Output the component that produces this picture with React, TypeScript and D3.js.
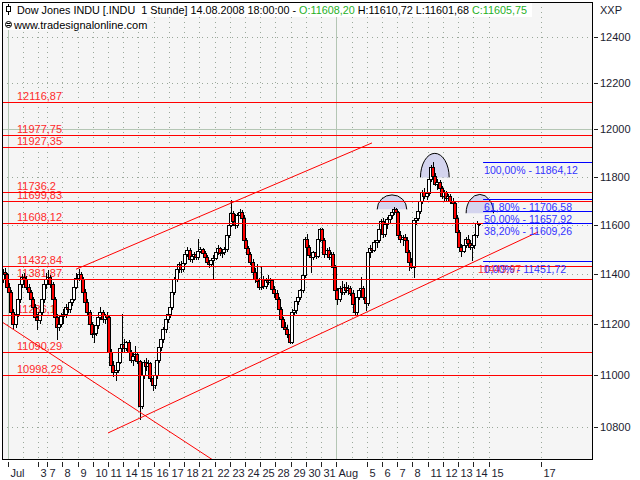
import { useEffect, useRef } from 'react';
import * as d3 from 'd3';

type Bar = [number, number, number, number]; // open, high, low, close

// hourly bars, one row per session (Jun 30 and Aug 14 are partial)
const candles: Bar[] = [
  // Jun 30
  [11380, 11420, 11370, 11410], [11410, 11425, 11390, 11400], [11400, 11405, 11340, 11350],
  // Jul 1
  [11350, 11365, 11320, 11330], [11330, 11335, 11240, 11250], [11250, 11262, 11186, 11200], [11200, 11250, 11190, 11240], [11240, 11310, 11232, 11300], [11300, 11368, 11290, 11360], [11360, 11400, 11350, 11390],
  // Jul 2
  [11390, 11405, 11370, 11380], [11380, 11392, 11340, 11350], [11350, 11362, 11320, 11330], [11330, 11338, 11290, 11300], [11300, 11310, 11258, 11270], [11270, 11282, 11225, 11230], [11230, 11240, 11180, 11215],
  // Jul 3 (half day)
  [11215, 11258, 11205, 11250], [11250, 11305, 11240, 11300], [11300, 11368, 11290, 11360], [11360, 11405, 11345, 11380],
  // Jul 7
  [11380, 11415, 11372, 11390], [11390, 11398, 11350, 11360], [11360, 11368, 11292, 11300], [11300, 11310, 11222, 11230], [11230, 11240, 11140, 11190], [11190, 11215, 11175, 11200], [11200, 11245, 11192, 11231],
  // Jul 8
  [11231, 11262, 11205, 11240], [11240, 11282, 11230, 11270], [11270, 11285, 11248, 11260], [11260, 11300, 11250, 11290], [11290, 11318, 11275, 11300], [11300, 11360, 11295, 11350], [11350, 11405, 11345, 11384],
  // Jul 9
  [11384, 11420, 11378, 11400], [11400, 11410, 11370, 11380], [11380, 11388, 11322, 11330], [11330, 11340, 11280, 11290], [11290, 11300, 11240, 11250], [11250, 11258, 11192, 11200], [11200, 11210, 11148, 11160],
  // Jul 10
  [11160, 11175, 11130, 11165], [11165, 11205, 11158, 11195], [11195, 11240, 11185, 11230], [11230, 11270, 11222, 11250], [11250, 11258, 11210, 11220], [11220, 11242, 11205, 11235], [11235, 11248, 11215, 11229],
  // Jul 11
  [11229, 11232, 11080, 11090], [11090, 11100, 11030, 11040], [11040, 11055, 10995, 11010], [11010, 11028, 10980, 11020], [11020, 11055, 11012, 11050], [11050, 11110, 11045, 11105], [11105, 11240, 11095, 11120],
  // Jul 14
  [11120, 11140, 11095, 11105], [11105, 11135, 11098, 11130], [11130, 11138, 11085, 11090], [11090, 11098, 11050, 11060], [11060, 11085, 11040, 11075], [11075, 11112, 11065, 11080], [11080, 11090, 11045, 11055],
  // Jul 15
  [11055, 11060, 10830, 10880], [10880, 11030, 10870, 11000], [11000, 11060, 10990, 11050], [11050, 11065, 11020, 11035], [11035, 11058, 11010, 11045], [11045, 11050, 10975, 10990], [10990, 11000, 10940, 10962],
  // Jul 16
  [10962, 11010, 10950, 11000], [11000, 11068, 10990, 11060], [11060, 11115, 11050, 11110], [11110, 11150, 11098, 11140], [11140, 11188, 11128, 11180], [11180, 11228, 11170, 11220], [11220, 11260, 11208, 11239],
  // Jul 17
  [11239, 11280, 11230, 11270], [11270, 11340, 11262, 11330], [11330, 11390, 11320, 11380], [11380, 11430, 11372, 11420], [11420, 11450, 11410, 11440], [11440, 11455, 11410, 11420], [11420, 11460, 11412, 11446],
  // Jul 18
  [11446, 11490, 11440, 11480], [11480, 11512, 11472, 11500], [11500, 11508, 11455, 11462], [11462, 11480, 11450, 11472], [11472, 11490, 11462, 11482], [11482, 11490, 11460, 11468], [11468, 11542, 11462, 11496],
  // Jul 21
  [11496, 11512, 11488, 11502], [11502, 11508, 11478, 11486], [11486, 11495, 11462, 11470], [11470, 11478, 11440, 11448], [11448, 11456, 11430, 11440], [11440, 11466, 11432, 11458], [11458, 11478, 11380, 11467],
  // Jul 22
  [11467, 11500, 11460, 11490], [11490, 11520, 11482, 11505], [11505, 11512, 11478, 11484], [11484, 11498, 11470, 11490], [11490, 11510, 11482, 11504], [11504, 11565, 11495, 11560], [11560, 11610, 11552, 11602],
  // Jul 23
  [11602, 11705, 11595, 11650], [11650, 11660, 11605, 11615], [11615, 11645, 11590, 11600], [11600, 11650, 11592, 11640], [11640, 11668, 11630, 11655], [11655, 11662, 11620, 11628], [11628, 11640, 11530, 11540],
  // Jul 24
  [11540, 11548, 11495, 11505], [11505, 11515, 11470, 11480], [11480, 11490, 11440, 11450], [11450, 11462, 11400, 11410], [11410, 11425, 11370, 11380], [11380, 11440, 11362, 11372], [11372, 11385, 11340, 11349],
  // Jul 25
  [11349, 11430, 11340, 11380], [11380, 11392, 11345, 11352], [11352, 11385, 11345, 11378], [11378, 11395, 11360, 11368], [11368, 11384, 11350, 11375], [11375, 11380, 11330, 11340], [11340, 11352, 11310, 11325],
  // Jul 28
  [11325, 11335, 11290, 11300], [11300, 11308, 11255, 11262], [11262, 11270, 11215, 11222], [11222, 11230, 11180, 11190], [11190, 11210, 11170, 11182], [11182, 11195, 11150, 11160], [11160, 11168, 11125, 11131],
  // Jul 29
  [11131, 11260, 11125, 11250], [11250, 11262, 11238, 11255], [11255, 11300, 11245, 11292], [11292, 11318, 11280, 11310], [11310, 11340, 11300, 11335], [11335, 11400, 11328, 11395], [11395, 11550, 11390, 11545],
  // Jul 30
  [11545, 11565, 11500, 11510], [11510, 11520, 11470, 11478], [11478, 11490, 11410, 11470], [11470, 11495, 11460, 11488], [11488, 11500, 11465, 11475], [11475, 11550, 11468, 11545], [11545, 11590, 11535, 11583],
  // Jul 31
  [11583, 11590, 11530, 11540], [11540, 11548, 11470, 11480], [11480, 11505, 11470, 11498], [11498, 11510, 11462, 11470], [11470, 11490, 11460, 11482], [11482, 11488, 11420, 11430], [11430, 11438, 11320, 11335],
  // Aug 1
  [11335, 11345, 11280, 11300], [11300, 11352, 11292, 11345], [11345, 11372, 11320, 11330], [11330, 11360, 11322, 11350], [11350, 11368, 11330, 11338], [11338, 11355, 11320, 11345], [11345, 11352, 11318, 11326],
  // Aug 4
  [11326, 11335, 11270, 11280], [11280, 11290, 11236, 11250], [11250, 11320, 11242, 11310], [11310, 11340, 11300, 11335], [11335, 11390, 11328, 11345], [11345, 11352, 11300, 11310], [11310, 11320, 11255, 11284],
  // Aug 5
  [11284, 11495, 11278, 11490], [11490, 11520, 11470, 11505], [11505, 11530, 11490, 11500], [11500, 11540, 11495, 11530], [11530, 11548, 11510, 11540], [11540, 11590, 11530, 11585], [11585, 11625, 11578, 11615],
  // Aug 6
  [11615, 11630, 11550, 11565], [11565, 11615, 11555, 11605], [11605, 11635, 11590, 11625], [11625, 11650, 11612, 11640], [11640, 11665, 11628, 11655], [11655, 11675, 11645, 11668], [11668, 11672, 11640, 11656],
  // Aug 7
  [11656, 11660, 11550, 11560], [11560, 11575, 11530, 11545], [11545, 11560, 11520, 11552], [11552, 11565, 11535, 11540], [11540, 11550, 11480, 11490], [11490, 11500, 11415, 11450], [11450, 11465, 11425, 11431],
  // Aug 8
  [11431, 11625, 11390, 11620], [11620, 11640, 11605, 11630], [11630, 11668, 11620, 11660], [11660, 11705, 11650, 11698], [11698, 11745, 11690, 11738], [11738, 11752, 11712, 11720], [11720, 11745, 11708, 11734],
  // Aug 11
  [11734, 11800, 11725, 11790], [11790, 11848, 11782, 11840], [11840, 11864, 11795, 11805], [11805, 11815, 11765, 11772], [11772, 11790, 11748, 11780], [11780, 11788, 11740, 11752], [11752, 11760, 11712, 11722],
  // Aug 12
  [11722, 11745, 11700, 11735], [11735, 11742, 11705, 11712], [11712, 11730, 11698, 11720], [11720, 11728, 11690, 11700], [11700, 11712, 11680, 11692], [11692, 11700, 11620, 11630], [11630, 11640, 11560, 11570],
  // Aug 13
  [11570, 11580, 11500, 11510], [11510, 11522, 11475, 11495], [11495, 11525, 11488, 11518], [11518, 11550, 11510, 11545], [11545, 11560, 11515, 11525], [11525, 11540, 11502, 11510], [11510, 11528, 11458, 11520],
  // Aug 14
  [11520, 11565, 11505, 11558], [11558, 11618, 11550, 11608.2], [11608.2, 11610.72, 11601.68, 11605.75],
];

// sessions on the time axis ('' = no label drawn)
const sessionLabels = ['', 'Jul', '', '3', '7', '8', '9', '10', '11', '14', '15', '16', '17', '18', '21', '22', '23', '24', '25', '28', '29', '30', '31', 'Aug', '', '5', '6', '7', '8', '11', '12', '13', '14'];
const sessionBars = [3, 7, 7, 4, 7, 7, 7, 7, 7, 7, 7, 7, 7, 7, 7, 7, 7, 7, 7, 7, 7, 7, 7, 7, 7, 7, 7, 7, 7, 7, 7, 7, 3];
const monthLabels = ['Jul', 'Aug'];
const futureLabels = ['15', '17'];
const futureSlots = [224, 248];

const priceTicks = [10800, 11000, 11200, 11400, 11600, 11800, 12000, 12200, 12400];
const majorPrice = 12000;

const levelValues = [12116.87, 11977.75, 11927.35, 11736.2, 11699.83, 11608.12, 11432.84, 11381.87, 11236.1, 11090.29, 10998.29];

const fibPercents = ['100,00%', '61,80%', '50,00%', '38,20%', '0,00%'];
const fibValues = [11864.12, 11706.58, 11657.92, 11609.26, 11451.72];
const fibStartSlot = 221.5;
const extraLabel = '11449,97';

// trend lines as [slot, price] pairs
const trendLines: [number, number][][] = [
  [[34.3, 11420], [170.4, 11943]],
  [[49.0, 10776], [246.8, 11572]],
  [[0.7, 11206], [97.3, 10673]],
];

// domes over the three highs
const domeSlots = [179.6, 199.3, 220.0];
const domeBase = [11665, 11798, 11649];
const domeTop = [11725, 11899, 11727];
const domeHalfBars = [6.8, 6.6, 6.3];

const fmt = (v: number) => String(v).replace('.', ',');
const fmt2 = (v: number) => v.toFixed(2).replace('.', ',');

export default function App() {
  const svgRef = useRef<SVGSVGElement>(null);

  useEffect(() => {
    const svg = d3.select(svgRef.current);
    svg.selectAll('*').remove();

    const W = 640;
    const H = 480;
    const plot = { left: 2, top: 2, right: 592, bottom: 459 };
    const font = "'Liberation Sans', Arial, sans-serif";

    const starts: number[] = [];
    let acc = 0;
    sessionBars.forEach((n) => {
      starts.push(acc);
      acc += n;
    });

    const x = d3.scaleLinear().domain([starts[1], starts[starts.length - 1]]).range([8, 473.3]);
    const y = d3.scaleLog().domain([10800, 12400]).range([426.7, 37]);
    const cy = (v: number) => Math.round(y(v)) + 0.5;
    const cx = (s: number) => Math.round(x(s)) + 0.5;

    svg.append('rect').attr('width', W).attr('height', H).attr('fill', '#fff');
    svg.append('rect')
      .attr('x', plot.left).attr('y', plot.top)
      .attr('width', plot.right - plot.left).attr('height', plot.bottom - plot.top)
      .attr('fill', '#f5f5f5');

    svg.append('defs').append('clipPath').attr('id', 'plotClip')
      .append('rect')
      .attr('x', plot.left + 1).attr('y', plot.top + 1)
      .attr('width', plot.right - plot.left - 1).attr('height', plot.bottom - plot.top - 1);

    const g = svg.append('g').attr('clip-path', 'url(#plotClip)');

    // grid
    priceTicks.forEach((v) => {
      g.append('line')
        .attr('x1', plot.left).attr('x2', plot.right)
        .attr('y1', cy(v)).attr('y2', cy(v))
        .attr('stroke', v === majorPrice ? '#b4c6b4' : '#9aa89a')
        .attr('stroke-dasharray', v === majorPrice ? null : '1,4');
    });
    sessionLabels.forEach((lab, i) => {
      if (i === 0) return;
      const isMonth = monthLabels.includes(lab);
      g.append('line')
        .attr('x1', cx(starts[i])).attr('x2', cx(starts[i]))
        .attr('y1', plot.top).attr('y2', plot.bottom)
        .attr('stroke', isMonth ? '#b4c6b4' : '#9aa89a')
        .attr('stroke-dasharray', isMonth ? null : '1,4');
    });
    futureSlots.forEach((s) => {
      g.append('line')
        .attr('x1', cx(s)).attr('x2', cx(s))
        .attr('y1', plot.top).attr('y2', plot.bottom)
        .attr('stroke', '#9aa89a').attr('stroke-dasharray', '1,4');
    });

    // level labels (behind candles)
    levelValues.forEach((v) => {
      g.append('text')
        .attr('x', 17).attr('y', Math.round(y(v)) - 2)
        .attr('font-family', font).attr('font-size', 11)
        .attr('fill', '#ff2a2a')
        .text(fmt(v));
    });

    // domes
    domeSlots.forEach((s, i) => {
      const x0 = x(s - domeHalfBars[i]);
      const x1 = x(s + domeHalfBars[i]);
      const rx = (x1 - x0) / 2;
      const by = y(domeBase[i]);
      const ry = by - y(domeTop[i]);
      g.append('path')
        .attr('d', `M${x0},${by} A${rx},${ry} 0 0 1 ${x1},${by}`)
        .attr('fill', '#d4d4ee')
        .attr('stroke', '#000')
        .attr('stroke-width', 1);
    });

    // candles
    candles.forEach(([o, h, l, c], i) => {
      const px = Math.round(x(i + 0.5));
      const yh = Math.round(y(h));
      const yl = Math.round(y(l));
      g.append('rect')
        .attr('x', px).attr('y', yh)
        .attr('width', 1).attr('height', Math.max(yl - yh + 1, 1))
        .attr('fill', '#000');
      const yt = Math.round(y(Math.max(o, c)));
      const yb = Math.round(y(Math.min(o, c)));
      g.append('rect')
        .attr('x', px - 1.5).attr('y', yt + 0.5)
        .attr('width', 3).attr('height', Math.max(yb - yt, 0))
        .attr('fill', c >= o ? '#fff' : '#ff0000')
        .attr('stroke', '#000')
        .attr('shape-rendering', 'crispEdges');
    });

    // horizontal levels
    levelValues.forEach((v) => {
      g.append('line')
        .attr('x1', plot.left).attr('x2', plot.right)
        .attr('y1', cy(v)).attr('y2', cy(v))
        .attr('stroke', '#ff0000')
        .attr('stroke-width', 1.2);
    });

    // trend lines
    const line = d3.line<[number, number]>().x((d) => x(d[0])).y((d) => y(d[1]));
    trendLines.forEach((t) => {
      g.append('path').attr('d', line(t)).attr('fill', 'none').attr('stroke', '#ff0000');
    });

    // fibonacci levels
    fibValues.forEach((v) => {
      g.append('line')
        .attr('x1', x(fibStartSlot)).attr('x2', plot.right)
        .attr('y1', cy(v)).attr('y2', cy(v))
        .attr('stroke', '#0000ff');
    });
    g.append('text')
      .attr('x', x(fibStartSlot) - 5).attr('y', Math.round(y(fibValues[4])) + 12)
      .attr('font-family', font).attr('font-size', 10.5)
      .attr('fill', '#ff2a2a')
      .text(extraLabel);
    fibValues.forEach((v, i) => {
      g.append('text')
        .attr('x', x(fibStartSlot) + 1).attr('y', Math.round(y(v)) + 12)
        .attr('font-family', font).attr('font-size', 10.5)
        .attr('fill', '#3333ff')
        .text(`${fibPercents[i]} - ${fmt2(v)}`);
    });

    // header
    const last = candles[candles.length - 1];
    g.append('rect').attr('x', plot.left).attr('y', plot.top).attr('width', 530).attr('height', 15).attr('fill', '#fff');
    g.append('rect').attr('x', plot.left).attr('y', plot.top + 15).attr('width', 145).attr('height', 13).attr('fill', '#fff');
    g.append('line').attr('x1', 8.5).attr('x2', 8.5).attr('y1', 4).attr('y2', 15).attr('stroke', '#000');
    g.append('rect').attr('x', 6.5).attr('y', 6.5).attr('width', 4).attr('height', 5).attr('fill', '#fff').attr('stroke', '#000');
    const hdr = g.append('text')
      .attr('x', 17).attr('y', 14)
      .attr('font-family', font).attr('font-size', 10.8)
      .attr('fill', '#000')
      .style('white-space', 'pre');
    hdr.append('tspan').text('Dow Jones INDU [.INDU  1 Stunde] 14.08.2008 18:00:00 - ');
    hdr.append('tspan').attr('fill', '#1fb01f').text(`O:${fmt2(last[0])}`);
    hdr.append('tspan').text(` H:${fmt2(last[1])} L:${fmt2(last[2])} `);
    hdr.append('tspan').attr('fill', '#1fb01f').text(`C:${fmt2(last[3])}`);

    g.append('circle').attr('cx', 8.5).attr('cy', 24.5).attr('r', 3).attr('fill', '#fff').attr('stroke', '#000');
    g.append('line').attr('x1', 6.5).attr('x2', 10.5).attr('y1', 23.5).attr('y2', 23.5).attr('stroke', '#000');
    g.append('line').attr('x1', 6.5).attr('x2', 10.5).attr('y1', 25.5).attr('y2', 25.5).attr('stroke', '#000');
    g.append('text')
      .attr('x', 14).attr('y', 29)
      .attr('font-family', font).attr('font-size', 11)
      .attr('fill', '#000')
      .text('www.tradesignalonline.com');

    // frame
    svg.append('rect')
      .attr('x', plot.left + 0.5).attr('y', plot.top + 0.5)
      .attr('width', plot.right - plot.left).attr('height', plot.bottom - plot.top)
      .attr('fill', 'none').attr('stroke', '#000');

    // right axis
    priceTicks.forEach((v) => {
      svg.append('line')
        .attr('x1', plot.right + 2).attr('x2', plot.right + 6)
        .attr('y1', cy(v)).attr('y2', cy(v))
        .attr('stroke', '#222');
      svg.append('text')
        .attr('x', plot.right + 8).attr('y', Math.round(y(v)) + 4)
        .attr('font-family', font).attr('font-size', 11)
        .attr('fill', '#1c1c30')
        .text(String(v));
    });
    svg.append('text')
      .attr('x', plot.right + 8).attr('y', 14)
      .attr('font-family', font).attr('font-size', 11)
      .attr('fill', '#1c1c30')
      .text('XXP');

    // bottom axis
    const ticks: { s: number; label: string }[] = [];
    sessionLabels.forEach((lab, i) => {
      if (lab) ticks.push({ s: starts[i], label: lab });
    });
    futureLabels.forEach((lab, i) => ticks.push({ s: futureSlots[i], label: lab }));
    ticks.forEach((t) => {
      svg.append('line')
        .attr('x1', cx(t.s)).attr('x2', cx(t.s))
        .attr('y1', plot.bottom + 3).attr('y2', plot.bottom + 8)
        .attr('stroke', '#222');
      svg.append('text')
        .attr('x', cx(t.s) + 2).attr('y', plot.bottom + 18)
        .attr('font-family', font).attr('font-size', 11)
        .attr('fill', '#1c1c30')
        .text(t.label);
    });
  }, []);

  return (
    <svg
      ref={svgRef}
      width={640}
      height={480}
      style={{ position: 'absolute', left: 0, top: 0, display: 'block' }}
    />
  );
}
